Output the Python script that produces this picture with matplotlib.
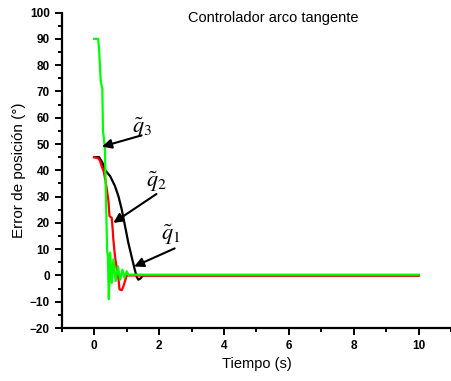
import matplotlib
matplotlib.use('Agg')
import matplotlib.pyplot as plt
from matplotlib.ticker import MultipleLocator

# Error de posicion (grados) vs tiempo (s) para cada articulacion
t_q1 = [0, 0.15, 0.25, 0.34, 0.49, 0.64, 0.75, 0.85, 0.95, 1.05, 1.15, 1.25, 1.31, 1.36, 1.42, 1.50, 10]
e_q1 = [45, 45, 43, 40, 37.8, 34, 30, 25, 18.8, 12.5, 7.3, 2.2, -0.5, -1.6, -1.2, 0, 0]

t_q2 = [0, 0.13, 0.18, 0.23, 0.29, 0.34, 0.39, 0.44, 0.47, 0.54, 0.57, 0.59, 0.64, 0.70,
        0.75, 0.78, 0.85, 0.90, 0.95, 1.0, 10]
e_q2 = [45, 44.5, 43.5, 41.5, 39.7, 36.5, 32.7, 28.2, 22.6, 21.9, 17.4, 13.6, 7.3, 2.2,
        -1.5, -5.3, -5.6, -4.1, -2.1, 0, 0]

t_q3 = [0, 0.12, 0.15, 0.20, 0.25, 0.27, 0.30, 0.33, 0.36, 0.40, 0.42, 0.45, 0.49, 0.54,
        0.59, 0.66, 0.73, 0.80, 0.87, 0.93, 1.0, 1.05, 10]
e_q3 = [90, 90, 86, 74, 71, 55, 52, 48, 30, 9, 8, -9, 8.7, -2.8,
        6.1, -2.1, 3.5, -1.6, 2.2, -0.9, 1.6, 0.3, 0.3]

labels = [r'$\tilde{q}_1$', r'$\tilde{q}_2$', r'$\tilde{q}_3$']
label_pos = [(2.06, 15.6), (1.6, 35.7), (1.18, 56)]
arrow_tail = [(2.48, 10.3), (1.92, 31), (1.46, 53.3)]
arrow_tip = [(1.23, 3.4), (0.59, 20), (0.24, 49)]

plt.rcParams['font.family'] = ['Liberation Sans', 'DejaVu Sans']
plt.rcParams['mathtext.fontset'] = 'stix'

fig = plt.figure(figsize=(4.51, 3.81), dpi=100)
ax = fig.add_axes([0.137, 0.139, 0.863, 0.828])

ax.plot(t_q1, e_q1, color='black', lw=1.6)
ax.plot(t_q2, e_q2, color='#ff0000', lw=1.6)
ax.plot(t_q3, e_q3, color='#00ff00', lw=1.6)

for lab, pos, tail, tip in zip(labels, label_pos, arrow_tail, arrow_tip):
    ax.text(pos[0], pos[1], lab, fontsize=16, ha='left', va='center')
    ax.annotate('', xy=tip, xytext=tail,
                arrowprops=dict(arrowstyle='-|>', color='black', lw=1.5,
                                mutation_scale=14, shrinkA=0, shrinkB=0))

ax.set_xlim(-1, 11)
ax.set_ylim(-20, 100)
ax.xaxis.set_major_locator(MultipleLocator(2))
ax.xaxis.set_minor_locator(MultipleLocator(1))
ax.yaxis.set_major_locator(MultipleLocator(10))
ax.yaxis.set_minor_locator(MultipleLocator(5))

ax.spines['top'].set_visible(False)
ax.spines['right'].set_visible(False)
ax.spines['left'].set_linewidth(1.6)
ax.spines['bottom'].set_linewidth(1.6)
ax.tick_params(which='major', direction='out', length=5, width=1.4, labelsize=8.5)
ax.tick_params(which='minor', direction='out', length=3, width=1.4)
for lbl in ax.get_xticklabels() + ax.get_yticklabels():
    lbl.set_fontweight('bold')

ax.set_xlabel('Tiempo (s)', fontsize=10.5, labelpad=4)
ax.set_ylabel('Error de posición (°)', fontsize=11, labelpad=3)

fig.text(0.606, 0.953, 'Controlador arco tangente', fontsize=10.5, ha='center', va='center')

fig.savefig('out.png', dpi=100)
